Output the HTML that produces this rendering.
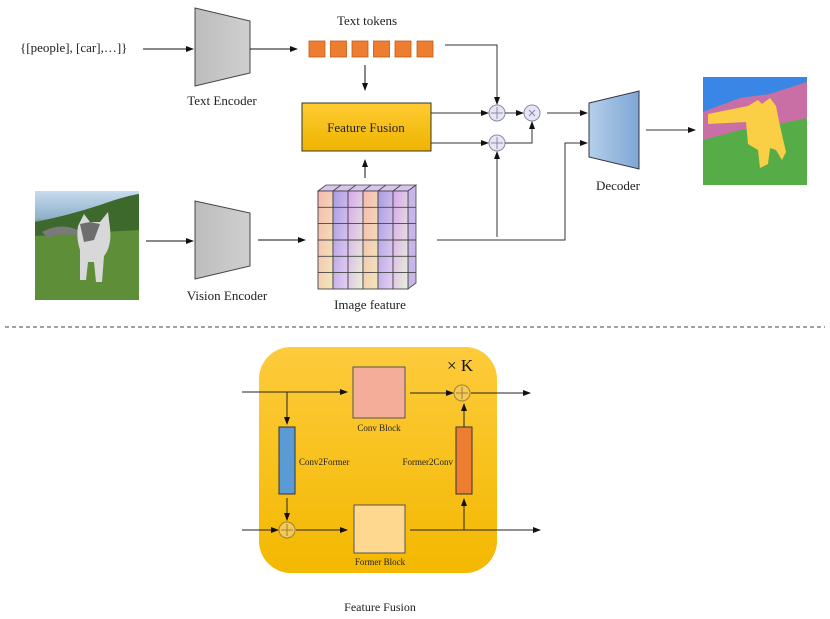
<!DOCTYPE html>
<html><head><meta charset="utf-8"><style>
html,body{margin:0;padding:0;background:#fff;}
svg{display:block;font-family:"Liberation Serif",serif;}
</style></head><body>
<svg width="830" height="619" viewBox="0 0 830 619" xmlns="http://www.w3.org/2000/svg">
<defs>
<marker id="a" markerWidth="8" markerHeight="8" refX="7" refY="4" orient="auto" markerUnits="userSpaceOnUse"><path d="M0,1 L8,4 L0,7 z" fill="#111"/></marker>
<linearGradient id="ff" x1="0" y1="0" x2="0" y2="1"><stop offset="0" stop-color="#ffcc33"/><stop offset="1" stop-color="#eeb400"/></linearGradient>
<linearGradient id="gy" x1="0" y1="0" x2="1" y2="0"><stop offset="0" stop-color="#bdbdbd"/><stop offset="1" stop-color="#cfcfcf"/></linearGradient>
<linearGradient id="dec" x1="0" y1="0" x2="1" y2="0"><stop offset="0" stop-color="#b4cfea"/><stop offset="1" stop-color="#7fa6d4"/></linearGradient>
<linearGradient id="bg" x1="0" y1="0" x2="0" y2="1"><stop offset="0" stop-color="#fdcb3c"/><stop offset="1" stop-color="#f3b800"/></linearGradient>
<linearGradient id="c1" x1="0" y1="0" x2="1" y2="1"><stop offset="0" stop-color="#f7b9b0"/><stop offset="1" stop-color="#f1e8b8"/></linearGradient>
<linearGradient id="c2" x1="0" y1="0" x2="1" y2="1"><stop offset="0" stop-color="#a99be0"/><stop offset="1" stop-color="#e6d0f4"/></linearGradient>
<linearGradient id="c3" x1="0" y1="0" x2="1" y2="1"><stop offset="0" stop-color="#d8a6ee"/><stop offset="1" stop-color="#e8f2d8"/></linearGradient>
<linearGradient id="sky" x1="0" y1="0" x2="0" y2="1"><stop offset="0" stop-color="#c8dcef"/><stop offset="0.25" stop-color="#8fb0c8"/><stop offset="0.35" stop-color="#3e6a2e"/><stop offset="0.5" stop-color="#6c9a44"/><stop offset="1" stop-color="#4e7e2a"/></linearGradient>
</defs>

<!-- top -->
<text x="20" y="52" font-size="13" fill="#222">{[people], [car],…]}</text>
<line x1="143" y1="49" x2="193" y2="49" stroke="#111" marker-end="url(#a)"/>
<polygon points="195,8 250,21 250,73 195,86" fill="url(#gy)" stroke="#444"/>
<text x="222" y="105" font-size="13" text-anchor="middle" fill="#222">Text Encoder</text>
<line x1="250" y1="49" x2="297" y2="49" stroke="#111" marker-end="url(#a)"/>
<text x="367" y="25" font-size="13" text-anchor="middle" fill="#222">Text tokens</text>
<g fill="#ed7d31" stroke="#c55a11" stroke-width="0.8">
<rect x="309" y="41" width="16" height="16"/><rect x="330.5" y="41" width="16" height="16"/><rect x="352" y="41" width="16" height="16"/><rect x="373.5" y="41" width="16" height="16"/><rect x="395" y="41" width="16" height="16"/><rect x="417" y="41" width="16" height="16"/>
</g>
<line x1="365" y1="65" x2="365" y2="90" stroke="#111" marker-end="url(#a)"/>
<rect x="302" y="103" width="129" height="48" fill="url(#ff)" stroke="#333"/>
<text x="366" y="132" font-size="13" text-anchor="middle" fill="#222">Feature Fusion</text>
<line x1="365" y1="178" x2="365" y2="160" stroke="#111" marker-end="url(#a)"/>

<!-- cube -->
<polygon points="318,191 326,185 416,185 408,191" fill="#d9c4ee" stroke="#444" stroke-width="0.8"/>
<polygon points="408,191 416,185 416,283 408,289" fill="#c8b6ea" stroke="#444" stroke-width="0.8"/>
<g stroke="#444" stroke-width="1">
<rect x="318" y="191" width="15" height="16.3" fill="url(#c1)"/>
</g>
<g id="cols"></g>
<g stroke="#444" stroke-width="0.9">
<!-- columns -->
<g>
<rect x="318" y="191" width="15" height="98" fill="url(#c1)"/>
<rect x="333" y="191" width="15" height="98" fill="url(#c2)"/>
<rect x="348" y="191" width="15" height="98" fill="url(#c3)"/>
<rect x="363" y="191" width="15" height="98" fill="url(#c1)"/>
<rect x="378" y="191" width="15" height="98" fill="url(#c2)"/>
<rect x="393" y="191" width="15" height="98" fill="url(#c3)"/>
</g>
<line x1="318" y1="207.3" x2="416" y2="207.3"/><line x1="318" y1="223.6" x2="416" y2="223.6"/><line x1="318" y1="240" x2="416" y2="240"/><line x1="318" y1="256.3" x2="416" y2="256.3"/><line x1="318" y1="272.6" x2="416" y2="272.6"/>
<line x1="333" y1="191" x2="341" y2="185"/><line x1="348" y1="191" x2="356" y2="185"/><line x1="363" y1="191" x2="371" y2="185"/><line x1="378" y1="191" x2="386" y2="185"/><line x1="393" y1="191" x2="401" y2="185"/>
</g>
<text x="370" y="309" font-size="13" text-anchor="middle" fill="#222">Image feature</text>

<!-- cat photo -->
<rect x="35" y="191" width="104" height="109" fill="url(#sky)"/>
<path d="M35,222 Q70,215 100,205 Q125,196 139,194 L139,232 L35,236 z" fill="#3d6a2c"/>
<path d="M35,236 L139,230 L139,300 L35,300 z" fill="#5e8f38"/>
<path d="M42,232 Q60,222 78,230 L82,236 Q60,232 48,238 z" fill="#7a7a7a"/>
<path d="M78,226 L84,214 L90,222 L100,222 L108,212 L110,228 Q112,246 104,256 L102,282 L96,282 L94,262 L88,262 L86,280 L80,280 L80,250 Q76,238 78,226 z" fill="#d8d8d8"/>
<path d="M80,224 L90,222 L100,224 L94,240 L84,242 z" fill="#6d6d6d"/>
<path d="M146,241 L193,241" stroke="#111" marker-end="url(#a)"/>
<polygon points="195,201 250,213 250,266 195,279" fill="url(#gy)" stroke="#444"/>
<text x="227" y="300" font-size="13" text-anchor="middle" fill="#222">Vision Encoder</text>
<line x1="258" y1="240" x2="305" y2="240" stroke="#111" marker-end="url(#a)"/>

<!-- fusion ops -->
<path d="M445,45 L497,45 L497,104" fill="none" stroke="#333" marker-end="url(#a)"/>
<line x1="431" y1="113" x2="488" y2="113" stroke="#333" marker-end="url(#a)"/>
<line x1="431" y1="143" x2="488" y2="143" stroke="#333" marker-end="url(#a)"/>
<path d="M437,240 L565,240 L565,143 L587,143" fill="none" stroke="#333" marker-end="url(#a)"/>
<line x1="497" y1="237" x2="497" y2="152" stroke="#333" marker-end="url(#a)"/>
<g fill="#e6e6f4" stroke="#8a8aa8">
<circle cx="497" cy="113" r="8"/><circle cx="497" cy="143" r="8"/><circle cx="532" cy="113" r="8"/>
</g>
<g stroke="#8a8aa8" stroke-width="1">
<line x1="491" y1="113" x2="503" y2="113"/><line x1="497" y1="107" x2="497" y2="119"/>
<line x1="491" y1="143" x2="503" y2="143"/><line x1="497" y1="137" x2="497" y2="149"/>
<line x1="529" y1="110" x2="535" y2="116"/><line x1="535" y1="110" x2="529" y2="116"/>
</g>
<line x1="505" y1="113" x2="523" y2="113" stroke="#333" marker-end="url(#a)"/>
<path d="M505,143 L532,143 L532,122" fill="none" stroke="#333" marker-end="url(#a)"/>
<line x1="547" y1="113" x2="587" y2="113" stroke="#333" marker-end="url(#a)"/>
<polygon points="589,103 639,91 639,169 589,157" fill="url(#dec)" stroke="#334"/>
<text x="618" y="190" font-size="13" text-anchor="middle" fill="#222">Decoder</text>
<line x1="646" y1="130" x2="695" y2="130" stroke="#333" marker-end="url(#a)"/>

<!-- segmentation -->
<rect x="703" y="77" width="104" height="108" fill="#56ad48"/>
<path d="M703,77 L807,77 L807,82 L770,94 L740,98 L703,112 z" fill="#3a86e6"/>
<path d="M703,112 L740,98 L770,94 L807,82 L807,118 L770,126 L740,130 L703,140 z" fill="#c96fa6"/>
<path d="M708,114 L748,106 L758,100 L762,104 L770,98 L776,106 L780,126 L786,152 L782,160 L776,150 L770,148 L768,164 L760,168 L758,150 L748,144 L746,122 L708,124 z" fill="#fbcf45"/>

<!-- dashed -->
<line x1="5" y1="327" x2="825" y2="327" stroke="#444" stroke-dasharray="4,3"/>

<!-- bottom -->
<rect x="259" y="347" width="238" height="226" rx="32" fill="url(#bg)"/>
<text x="447" y="371" font-size="17" fill="#111">× K</text>
<line x1="242" y1="392" x2="347" y2="392" stroke="#222" marker-end="url(#a)"/>
<rect x="353" y="367" width="52" height="51" fill="#f3ad98" stroke="#555"/>
<text x="379" y="431" font-size="9" text-anchor="middle" fill="#222">Conv Block</text>
<line x1="410" y1="393" x2="453" y2="393" stroke="#222" marker-end="url(#a)"/>
<circle cx="462" cy="393" r="8" fill="#f3c95a" stroke="#a08030"/>
<line x1="456" y1="393" x2="468" y2="393" stroke="#a08030"/><line x1="462" y1="387" x2="462" y2="399" stroke="#a08030"/>
<line x1="471" y1="393" x2="530" y2="393" stroke="#222" marker-end="url(#a)"/>
<line x1="287" y1="392" x2="287" y2="424" stroke="#222" marker-end="url(#a)"/>
<rect x="279" y="427" width="16" height="67" fill="#5b9bd5" stroke="#333"/>
<text x="299" y="465" font-size="9" fill="#222">Conv2Former</text>
<line x1="287" y1="498" x2="287" y2="520" stroke="#222" marker-end="url(#a)"/>
<circle cx="287" cy="530" r="8" fill="#f3c95a" stroke="#a08030"/>
<line x1="281" y1="530" x2="293" y2="530" stroke="#a08030"/><line x1="287" y1="524" x2="287" y2="536" stroke="#a08030"/>
<line x1="242" y1="530" x2="278" y2="530" stroke="#222" marker-end="url(#a)"/>
<line x1="296" y1="530" x2="347" y2="530" stroke="#222" marker-end="url(#a)"/>
<rect x="354" y="505" width="51" height="48" fill="#fdd88e" stroke="#555"/>
<text x="380" y="565" font-size="9" text-anchor="middle" fill="#222">Former Block</text>
<line x1="410" y1="530" x2="540" y2="530" stroke="#222" marker-end="url(#a)"/>
<line x1="464" y1="530" x2="464" y2="499" stroke="#222" marker-end="url(#a)"/>
<rect x="456" y="427" width="16" height="67" fill="#ed7d31" stroke="#333"/>
<text x="453" y="465" font-size="9" text-anchor="end" fill="#222">Former2Conv</text>
<line x1="464" y1="427" x2="464" y2="404" stroke="#222" marker-end="url(#a)"/>
<text x="380" y="611" font-size="12" text-anchor="middle" fill="#222">Feature Fusion</text>
</svg>
</body></html>
